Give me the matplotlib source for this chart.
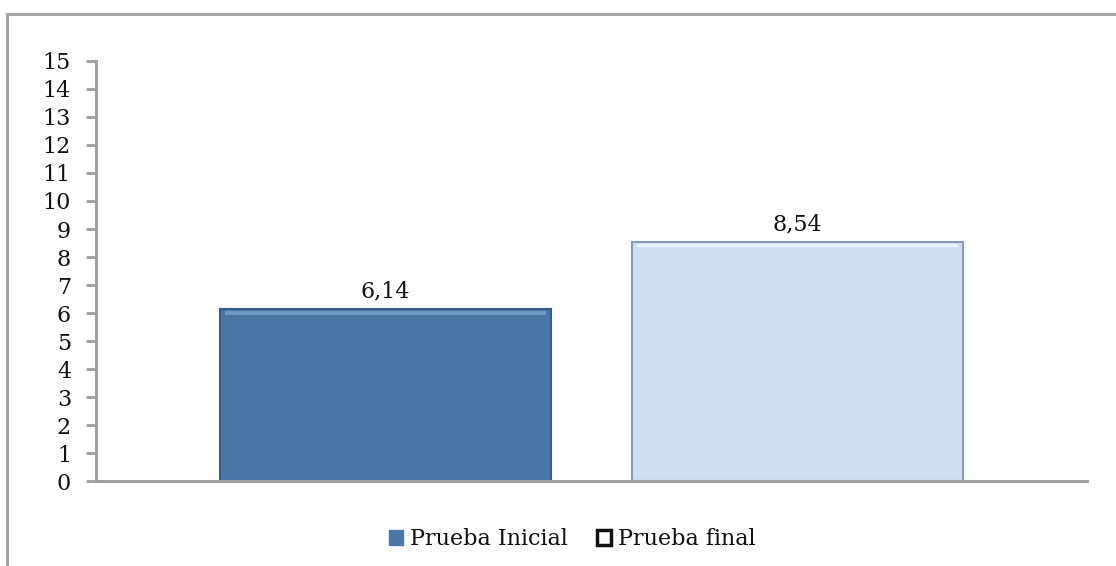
import matplotlib
matplotlib.use("Agg")
import matplotlib.pyplot as plt
from matplotlib.patches import Patch, Rectangle

# datos
series = ["Prueba Inicial", "Prueba final"]
valores = [6.14, 8.54]
etiquetas = ["6,14", "8,54"]
yticks = list(range(0, 16))

colores = ["#4a77a5", "#cedff0"]
bordes = ["#3a5f86", "#8a9bb0"]

plt.rcParams["font.family"] = ["DejaVu Serif"]

W, H = 1116, 566
fig = plt.figure(figsize=(W / 100, H / 100), dpi=100)

# marco exterior del grafico
fig.patches.append(Rectangle((7 / W, -0.1), 1.2, (H - 14) / H + 0.1,
                             transform=fig.transFigure, fill=False,
                             edgecolor="#a6a6a6", linewidth=2.2))

ax = fig.add_axes([96 / W, (H - 481) / H, 991 / W, 420 / H])
ax.set_xlim(0, 1)
ax.set_ylim(0, 15)

posiciones = [0.292, 0.708]
ancho = 0.334
ax.bar(posiciones, valores, width=ancho, color=colores,
       edgecolor=bordes, linewidth=1.5, zorder=2)

# franja clara arriba para imitar el bisel
for x, v, c in zip(posiciones, valores, ["#6f98c4", "#eaf2fb"]):
    ax.bar(x, 0.14, bottom=v - 0.2, width=ancho * 0.97, color=c,
           linewidth=0, zorder=3)

for x, v, t in zip(posiciones, valores, etiquetas):
    ax.text(x, v + 0.22, t, ha="center", va="bottom", fontsize=16,
            color="#111111")

ax.set_yticks(yticks)
ax.set_yticklabels([str(t) for t in yticks], fontsize=16, color="#111111")
ax.set_xticks([])
ax.tick_params(axis="y", direction="out", length=7, width=2,
               color="#a0a0a0", pad=11)

for s in ["top", "right"]:
    ax.spines[s].set_visible(False)
ax.spines["left"].set_color("#a0a0a0")
ax.spines["left"].set_linewidth(2.2)
ax.spines["bottom"].set_color("#a0a0a0")
ax.spines["bottom"].set_linewidth(2.2)

handles = [Patch(facecolor=colores[0], edgecolor=colores[0]),
           Patch(facecolor="#ffffff", edgecolor="#111111", linewidth=2.5)]
fig.legend(handles, series, loc="center", bbox_to_anchor=(572 / W, 27 / H),
           ncol=2, frameon=False, fontsize=16, handlelength=0.65,
           handleheight=0.65, handletextpad=0.3, columnspacing=1.3,
           labelcolor="#111111")

fig.savefig("out.png", dpi=100)
